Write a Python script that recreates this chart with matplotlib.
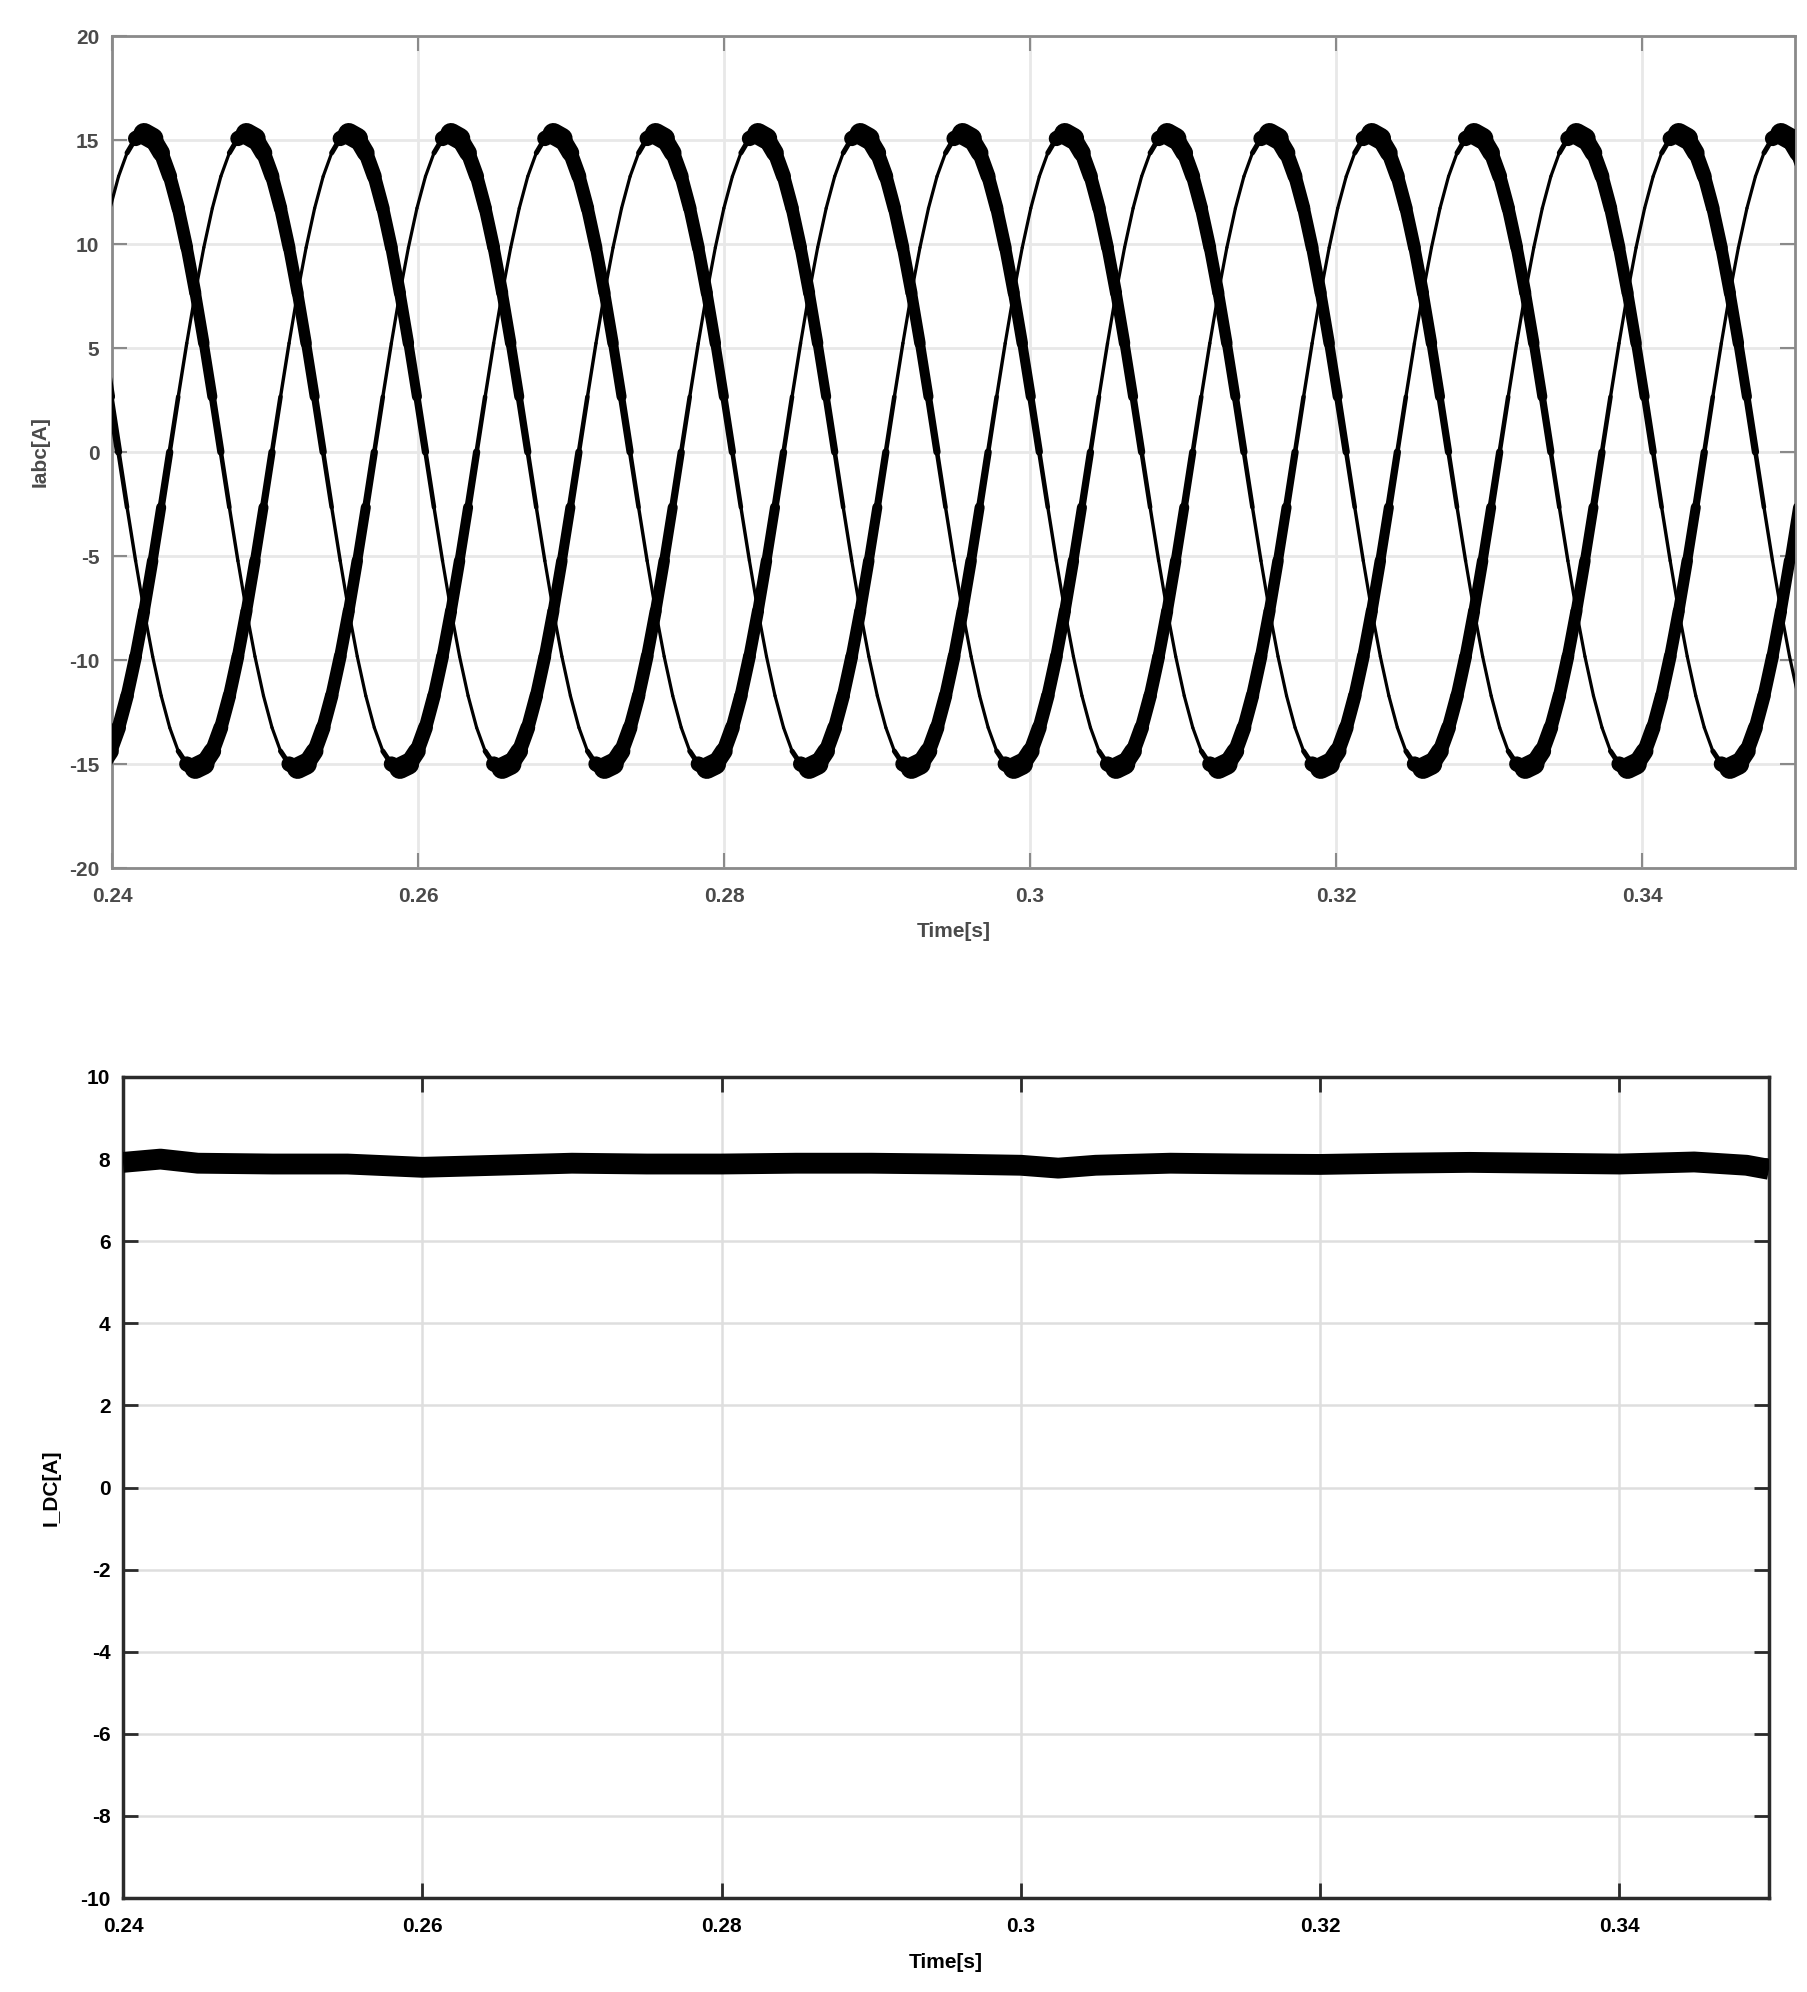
import numpy as np
import matplotlib
matplotlib.use("Agg")
import matplotlib.pyplot as plt
from matplotlib.collections import LineCollection

plt.rcParams['font.family'] = ['Liberation Sans', 'DejaVu Sans']
plt.rcParams['axes.unicode_minus'] = False

# ---------------- data ----------------
# three-phase currents: one cycle of the waveform, sampled every 10 deg starting at a peak
t_first_peak = 0.2421      # s, first positive peak in view
period = 0.02006           # s, ~50 Hz
cycle_values = [15.3, 15.07, 14.38, 13.25, 11.72, 9.83, 7.65, 5.23, 2.66, 0.0,
                -2.66, -5.23, -7.65, -9.83, -11.72, -13.25, -14.38, -15.0,
                -15.2, -15.0, -14.38, -13.25, -11.72, -9.83, -7.65, -5.23, -2.66, 0.0,
                2.66, 5.23, 7.65, 9.83, 11.72, 13.25, 14.38, 15.07]
# apparent trace thickness (ripple band) along the cycle, in points
cycle_band = [17, 14, 11.5, 10, 9.5, 9, 8.5, 8, 6.5, 4,
              2.6, 2.3, 2.3, 2.3, 2.3, 2.3, 2.3, 5,
              17, 14, 11.5, 10, 9.5, 9, 8.5, 8, 6.5, 4,
              2.6, 2.3, 2.3, 2.3, 2.3, 2.3, 2.3, 5]
phase_shift_cycles = [0.0, 1/3, 2/3]

# DC current
idc_time = [0.240, 0.2425, 0.245, 0.250, 0.255, 0.260, 0.265, 0.270, 0.275, 0.280,
            0.285, 0.290, 0.295, 0.300, 0.3025, 0.305, 0.310, 0.315, 0.320, 0.325,
            0.330, 0.335, 0.340, 0.345, 0.3485, 0.350]
idc_value = [7.92, 8.0, 7.9, 7.88, 7.88, 7.8, 7.85, 7.9, 7.88, 7.88,
             7.9, 7.9, 7.88, 7.85, 7.78, 7.85, 7.9, 7.88, 7.87, 7.9,
             7.92, 7.9, 7.88, 7.93, 7.85, 7.75]

top_yticks = [-20, -15, -10, -5, 0, 5, 10, 15, 20]
bot_yticks = [-10, -8, -6, -4, -2, 0, 2, 4, 6, 8, 10]
xticks = [0.24, 0.26, 0.28, 0.30, 0.32, 0.34]
xticklabels = ['0.24', '0.26', '0.28', '0.3', '0.32', '0.34']

# ---------------- figure ----------------
W, H = 1808, 1992
fig = plt.figure(figsize=(W / 100, H / 100), dpi=100)
ax1 = fig.add_axes([112 / W, 1 - 868 / H, (1795 - 112) / W, (868 - 36) / H])
ax2 = fig.add_axes([123 / W, 1 - 1898 / H, (1769 - 123) / W, (1898 - 1077) / H])

# ---- top: three-phase currents ----
n_per = len(cycle_values)
vals = np.array(cycle_values)
band = np.array(cycle_band)
for shift in phase_shift_cycles:
    tt, vv, ww = [], [], []
    for n in range(-2, 8):
        for k in range(n_per):
            tt.append(t_first_peak + (n + shift + k / n_per) * period)
            vv.append(vals[k])
            ww.append(band[k])
    pts = np.column_stack([tt, vv])
    segs = np.stack([pts[:-1], pts[1:]], axis=1)
    ww = np.array(ww)
    lws = (ww[:-1] + ww[1:]) / 2
    lc = LineCollection(segs, linewidths=lws, colors='black', capstyle='round',
                        joinstyle='round', zorder=3)
    ax1.add_collection(lc)

top_gray = '#8a8a8a'
top_text = '#4a4a4a'
ax1.set_xlim(0.24, 0.35)
ax1.set_ylim(-20, 20)
ax1.set_xticks(xticks)
ax1.set_xticklabels(xticklabels)
ax1.set_yticks(top_yticks)
ax1.grid(True, color='#e8e8e8', linewidth=2.0, zorder=0)
ax1.set_axisbelow(True)
for s in ax1.spines.values():
    s.set_color(top_gray)
    s.set_linewidth(2.0)
ax1.tick_params(axis='both', direction='in', length=11, width=1.5, color=top_gray,
                top=True, right=True, labelsize=15, labelcolor=top_text)
ax1.tick_params(axis='x', pad=14)
ax1.tick_params(axis='y', pad=9)
for lab in ax1.get_xticklabels() + ax1.get_yticklabels():
    lab.set_fontweight('bold')
ax1.set_xlabel('Time[s]', fontsize=15, fontweight='bold', color=top_text, labelpad=11)
ax1.set_ylabel('Iabc[A]', fontsize=15, fontweight='bold', color=top_text, labelpad=14)

# ---- bottom: DC current ----
ax2.plot(idc_time, idc_value, color='black', linewidth=15, solid_capstyle='butt', zorder=3)
ax2.set_xlim(0.24, 0.35)
ax2.set_ylim(-10, 10)
ax2.set_xticks(xticks)
ax2.set_xticklabels(xticklabels)
ax2.set_yticks(bot_yticks)
ax2.grid(True, color='#dedede', linewidth=1.8, zorder=0)
ax2.set_axisbelow(True)
for s in ax2.spines.values():
    s.set_color('#2b2b2b')
    s.set_linewidth(2.5)
ax2.tick_params(axis='both', direction='in', length=11, width=2, color='#2b2b2b',
                top=True, right=True, labelsize=15, labelcolor='black')
ax2.tick_params(axis='x', pad=14)
ax2.tick_params(axis='y', pad=9)
for lab in ax2.get_xticklabels() + ax2.get_yticklabels():
    lab.set_fontweight('bold')
ax2.set_xlabel('Time[s]', fontsize=15, fontweight='bold', color='black', labelpad=12)
ax2.set_ylabel('I_DC[A]', fontsize=15, fontweight='bold', color='black', labelpad=14)

fig.savefig('out.png', dpi=100, facecolor='white')
